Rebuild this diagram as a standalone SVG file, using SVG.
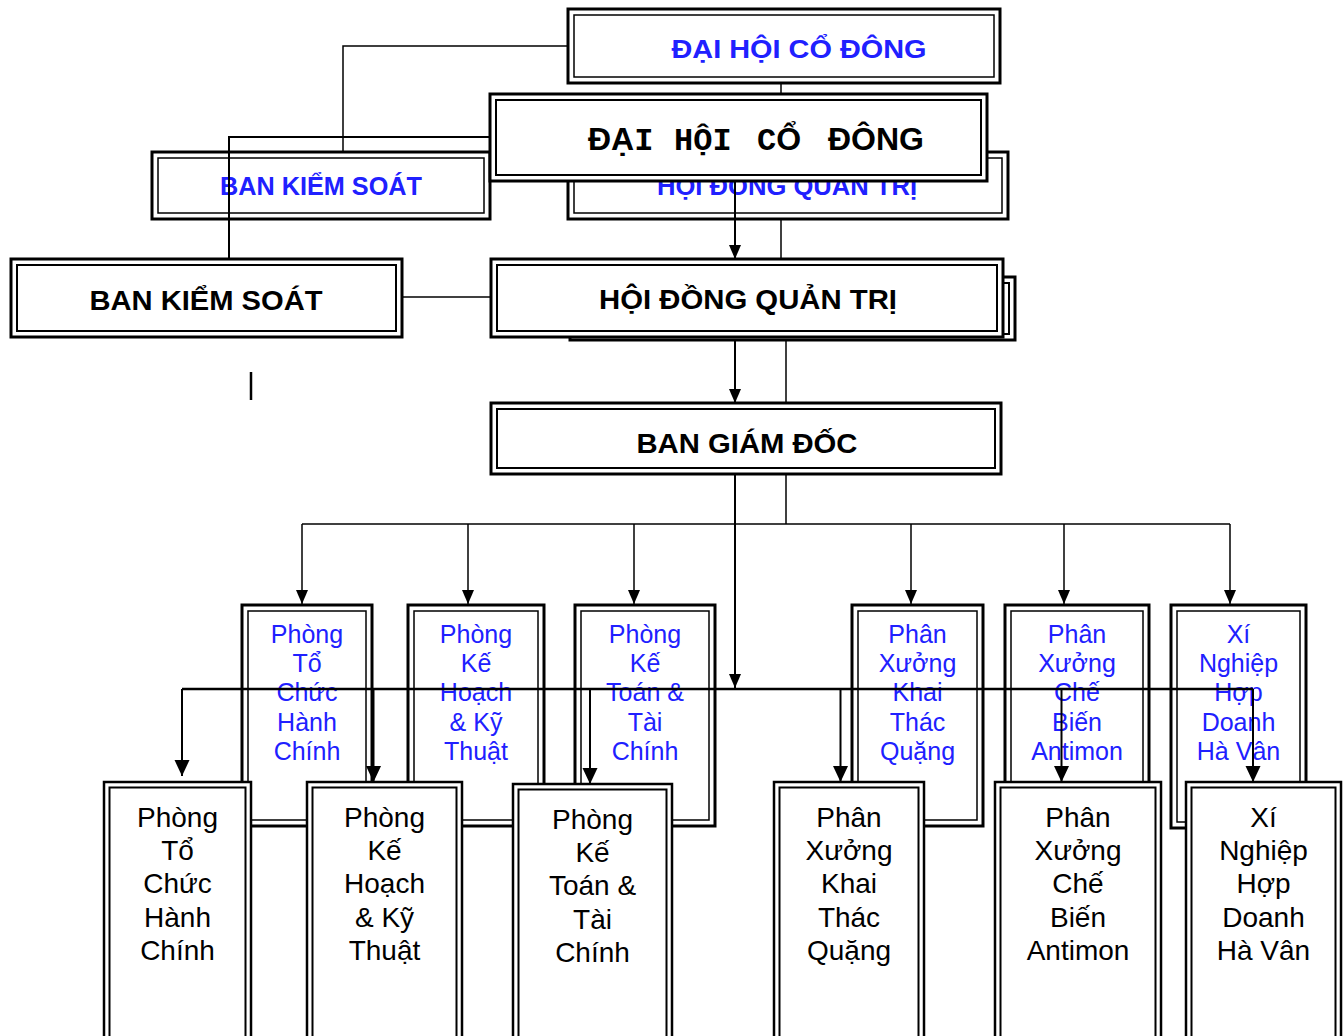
<svg xmlns="http://www.w3.org/2000/svg" width="1344" height="1036" viewBox="0 0 1344 1036">
<defs>
<style>
.o{fill:#fff;stroke:#000;stroke-width:2.5}
.i{fill:none;stroke:#000;stroke-width:2}
.ob{fill:#fff;stroke:#000;stroke-width:3}
.ib{fill:none;stroke:#000;stroke-width:1.5}
.ln{fill:none;stroke:#000;stroke-width:1.5}
.lt{fill:none;stroke:#000;stroke-width:2}
.lk{fill:none;stroke:#000;stroke-width:2.5}
.hb{font-family:"Liberation Sans",Arial,sans-serif;font-weight:bold;fill:#000;text-anchor:middle}
.hbl{font-family:"Liberation Sans",Arial,sans-serif;font-weight:bold;fill:#2020ff;text-anchor:middle}
.bt{font-family:"Liberation Sans",Arial,sans-serif;font-size:25px;fill:#2020ff;text-anchor:middle}
.ft{font-family:"Liberation Sans",Arial,sans-serif;font-size:28px;fill:#000;text-anchor:middle}
.sans{font-family:"Liberation Sans",Arial,sans-serif}
.mono{font-family:"Liberation Mono","Courier New",monospace}
</style>
<marker id="ah" markerUnits="userSpaceOnUse" markerWidth="14" markerHeight="14" refX="14" refY="7" orient="auto"><path d="M0,1 L14,7 L0,13 z" fill="#000"/></marker>
<marker id="ah2" markerUnits="userSpaceOnUse" markerWidth="16" markerHeight="16" refX="16" refY="8" orient="auto"><path d="M0,0.5 L16,8 L0,15.5 z" fill="#000"/></marker>
</defs>
<rect x="0" y="0" width="1344" height="1036" fill="#fff"/>

<!-- back layer top nodes -->
<g id="back-dhcd">
<rect class="ob" x="568" y="9" width="432" height="74"/>
<rect class="ib" x="574" y="15" width="420" height="62"/>
<text class="hbl" x="799" y="58" font-size="26" textLength="255" lengthAdjust="spacingAndGlyphs">ĐẠI HỘI CỔ ĐÔNG</text>
</g>
<g id="back-bks">
<rect class="ob" x="152" y="152" width="338" height="67"/>
<rect class="ib" x="158" y="158" width="326" height="55"/>
<text class="hbl" x="321" y="195" font-size="25" textLength="202" lengthAdjust="spacingAndGlyphs">BAN KIỂM SOÁT</text>
</g>
<g id="back-hdqt">
<rect class="ob" x="568" y="152" width="440" height="67"/>
<rect class="ib" x="574" y="158" width="428" height="55"/>
<text class="hbl" x="787" y="195" font-size="25" textLength="260" lengthAdjust="spacingAndGlyphs">HỘI ĐỒNG QUẢN TRỊ</text>
</g>

<!-- back layer department nodes -->
<g id="back-phong-tchc">
<rect class="ob" x="242" y="605" width="130" height="221"/>
<rect class="ib" x="248" y="611" width="118" height="209"/>
<text class="bt"><tspan x="307" y="643">Phòng</tspan><tspan x="307" y="672">Tổ</tspan><tspan x="307" y="701">Chức</tspan><tspan x="307" y="730.5">Hành</tspan><tspan x="307" y="760">Chính</tspan></text>
</g>
<g id="back-phong-khkt">
<rect class="ob" x="408" y="605" width="136" height="221"/>
<rect class="ib" x="414" y="611" width="124" height="209"/>
<text class="bt"><tspan x="476" y="643">Phòng</tspan><tspan x="476" y="672">Kế</tspan><tspan x="476" y="701">Hoạch</tspan><tspan x="476" y="730.5">&amp; Kỹ</tspan><tspan x="476" y="760">Thuật</tspan></text>
</g>
<g id="back-phong-ktc">
<rect class="ob" x="575" y="605" width="140" height="221"/>
<rect class="ib" x="581" y="611" width="128" height="209"/>
<text class="bt"><tspan x="645" y="643">Phòng</tspan><tspan x="645" y="672">Kế</tspan><tspan x="645" y="701">Toán &amp;</tspan><tspan x="645" y="730.5">Tài</tspan><tspan x="645" y="760">Chính</tspan></text>
</g>
<g id="back-px-ktq">
<rect class="ob" x="852" y="605" width="131" height="221"/>
<rect class="ib" x="858" y="611" width="119" height="209"/>
<text class="bt"><tspan x="917.5" y="643">Phân</tspan><tspan x="917.5" y="672">Xưởng</tspan><tspan x="917.5" y="701">Khai</tspan><tspan x="917.5" y="730.5">Thác</tspan><tspan x="917.5" y="760">Quặng</tspan></text>
</g>
<g id="back-px-cba">
<rect class="ob" x="1005" y="605" width="144" height="221"/>
<rect class="ib" x="1011" y="611" width="132" height="209"/>
<text class="bt"><tspan x="1077" y="643">Phân</tspan><tspan x="1077" y="672">Xưởng</tspan><tspan x="1077" y="701">Chế</tspan><tspan x="1077" y="730.5">Biến</tspan><tspan x="1077" y="760">Antimon</tspan></text>
</g>
<g id="back-xn-hdhv">
<rect class="ob" x="1171" y="605" width="135" height="223"/>
<rect class="ib" x="1177" y="611" width="123" height="211"/>
<text class="bt"><tspan x="1238.5" y="643">Xí</tspan><tspan x="1238.5" y="672">Nghiệp</tspan><tspan x="1238.5" y="701">Hợp</tspan><tspan x="1238.5" y="730.5">Doanh</tspan><tspan x="1238.5" y="760">Hà Vân</tspan></text>
</g>

<!-- connectors -->
<g id="connectors">
<polyline class="ln" points="568,46 343,46 343,152"/>
<line class="ln" x1="781" y1="83" x2="781" y2="94"/>
<line class="ln" x1="781" y1="219" x2="781" y2="259"/>
<polyline class="lt" points="490,137 229,137 229,259"/>
<line class="ln" x1="402" y1="297" x2="491" y2="297"/>
<line class="lt" x1="735" y1="181" x2="735" y2="259" marker-end="url(#ah)"/>
<line class="lt" x1="735" y1="337" x2="735" y2="403" marker-end="url(#ah)"/>
<line class="ln" x1="786" y1="340" x2="786" y2="403"/>
<line class="lt" x1="735" y1="474" x2="735" y2="688" marker-end="url(#ah)"/>
<line class="ln" x1="786" y1="474" x2="786" y2="524"/>
<line class="ln" x1="302" y1="524" x2="1230" y2="524"/>
<line class="ln" x1="302" y1="524" x2="302" y2="604" marker-end="url(#ah)"/>
<line class="ln" x1="468" y1="524" x2="468" y2="604" marker-end="url(#ah)"/>
<line class="ln" x1="634" y1="524" x2="634" y2="604" marker-end="url(#ah)"/>
<line class="ln" x1="911" y1="524" x2="911" y2="604" marker-end="url(#ah)"/>
<line class="ln" x1="1064" y1="524" x2="1064" y2="604" marker-end="url(#ah)"/>
<line class="ln" x1="1230" y1="524" x2="1230" y2="604" marker-end="url(#ah)"/>
<line class="lk" x1="182" y1="689" x2="1253" y2="689"/>
<line class="lt" x1="182" y1="689" x2="182" y2="776" marker-end="url(#ah2)"/>
<line class="lt" x1="373.5" y1="689" x2="373.5" y2="782" marker-end="url(#ah2)"/>
<line class="lt" x1="590" y1="689" x2="590" y2="784" marker-end="url(#ah2)"/>
<line class="lt" x1="840.5" y1="689" x2="840.5" y2="782" marker-end="url(#ah2)"/>
<line class="lt" x1="1061.5" y1="689" x2="1061.5" y2="782" marker-end="url(#ah2)"/>
<line class="lt" x1="1253" y1="689" x2="1253" y2="782" marker-end="url(#ah2)"/>
<line class="lk" x1="251" y1="372" x2="251" y2="400"/>
</g>

<!-- front layer top nodes -->
<g id="dhcd">
<rect class="ob" x="490" y="94" width="497" height="87"/>
<rect class="i" x="496" y="100" width="485" height="75"/>
<text y="150" font-weight="bold" fill="#000"><tspan x="588" class="sans" font-size="32">ĐẠ</tspan><tspan class="mono" font-size="32">I</tspan><tspan x="674" class="mono" font-size="32">HỘI</tspan><tspan x="757" class="mono" font-size="32">C</tspan><tspan class="sans" font-size="32">Ổ</tspan><tspan x="828" class="sans" font-size="32">ĐÔNG</tspan></text>
</g>
<g id="bks">
<rect class="ob" x="11" y="259" width="391" height="78"/>
<rect class="i" x="17" y="265" width="379" height="66"/>
<text class="hb" x="206" y="310" font-size="28" textLength="233" lengthAdjust="spacingAndGlyphs">BAN KIỂM SOÁT</text>
</g>
<g id="hdqt">
<rect class="ob" x="570" y="277" width="445" height="63"/>
<rect class="i" x="576" y="283" width="433" height="51"/>
<rect class="ob" x="491" y="259" width="512" height="78"/>
<rect class="i" x="497" y="265" width="500" height="66"/>
<text class="hb" x="748" y="309" font-size="28" textLength="298" lengthAdjust="spacingAndGlyphs">HỘI ĐỒNG QUẢN TRỊ</text>
</g>
<g id="bgd">
<rect class="ob" x="491" y="403" width="510" height="71"/>
<rect class="i" x="497" y="409" width="498" height="59"/>
<text class="hb" x="747" y="453" font-size="28" textLength="221" lengthAdjust="spacingAndGlyphs">BAN GIÁM ĐỐC</text>
</g>

<!-- front layer department nodes -->
<g id="phong-tchc">
<rect class="o" x="104" y="782" width="147" height="270"/>
<rect class="i" x="109.5" y="787.5" width="136" height="270"/>
<text class="ft"><tspan x="177.5" y="826.7">Phòng</tspan><tspan x="177.5" y="860">Tổ</tspan><tspan x="177.5" y="893.3">Chức</tspan><tspan x="177.5" y="926.6">Hành</tspan><tspan x="177.5" y="960">Chính</tspan></text>
</g>
<g id="phong-khkt">
<rect class="o" x="307" y="782" width="155" height="270"/>
<rect class="i" x="312.5" y="787.5" width="144" height="270"/>
<text class="ft"><tspan x="384.5" y="826.7">Phòng</tspan><tspan x="384.5" y="860">Kế</tspan><tspan x="384.5" y="893.3">Hoạch</tspan><tspan x="384.5" y="926.6">&amp; Kỹ</tspan><tspan x="384.5" y="960">Thuật</tspan></text>
</g>
<g id="phong-ktc">
<rect class="o" x="513" y="784" width="159" height="270"/>
<rect class="i" x="518.5" y="789.5" width="148" height="270"/>
<text class="ft"><tspan x="592.5" y="828.7">Phòng</tspan><tspan x="592.5" y="862">Kế</tspan><tspan x="592.5" y="895.3">Toán &amp;</tspan><tspan x="592.5" y="928.6">Tài</tspan><tspan x="592.5" y="962">Chính</tspan></text>
</g>
<g id="px-ktq">
<rect class="o" x="774" y="782" width="150" height="270"/>
<rect class="i" x="779.5" y="787.5" width="139" height="270"/>
<text class="ft"><tspan x="849" y="826.7">Phân</tspan><tspan x="849" y="860">Xưởng</tspan><tspan x="849" y="893.3">Khai</tspan><tspan x="849" y="926.6">Thác</tspan><tspan x="849" y="960">Quặng</tspan></text>
</g>
<g id="px-cba">
<rect class="o" x="995" y="782" width="166" height="270"/>
<rect class="i" x="1000.5" y="787.5" width="155" height="270"/>
<text class="ft"><tspan x="1078" y="826.7">Phân</tspan><tspan x="1078" y="860">Xưởng</tspan><tspan x="1078" y="893.3">Chế</tspan><tspan x="1078" y="926.6">Biến</tspan><tspan x="1078" y="960">Antimon</tspan></text>
</g>
<g id="xn-hdhv">
<rect class="o" x="1186" y="782" width="155" height="270"/>
<rect class="i" x="1191.5" y="787.5" width="144" height="270"/>
<text class="ft"><tspan x="1263.5" y="826.7">Xí</tspan><tspan x="1263.5" y="860">Nghiệp</tspan><tspan x="1263.5" y="893.3">Hợp</tspan><tspan x="1263.5" y="926.6">Doanh</tspan><tspan x="1263.5" y="960">Hà Vân</tspan></text>
</g>
</svg>
